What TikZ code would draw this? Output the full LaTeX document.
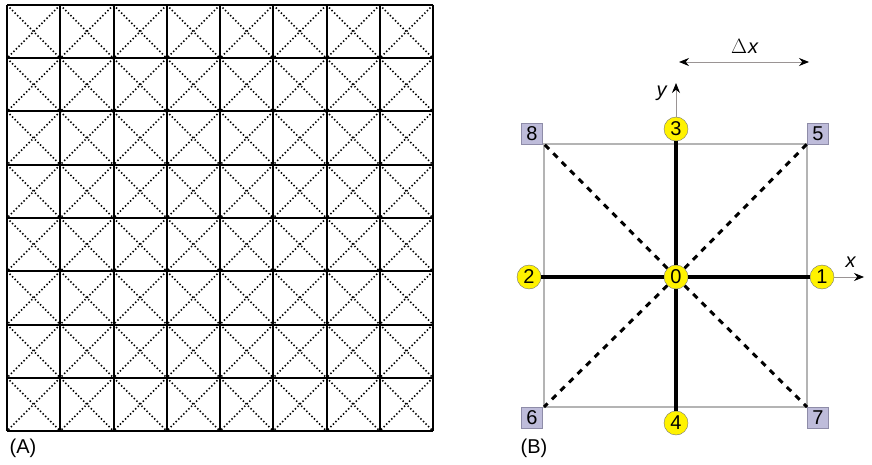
\documentclass[tikz,border=0pt]{standalone}
\usepackage{fontspec}
\setmainfont{Liberation Sans}
\usetikzlibrary{arrows.meta}
\begin{document}
\begin{tikzpicture}[x=1pt, y=-1pt, font=\fontsize{20}{22}\selectfont]
    % Define colours
    \definecolor{circleFill}{HTML}{FFF200}
    \definecolor{boxFill}{HTML}{BEBCDA}
    \definecolor{boxBorder}{HTML}{8E8CA8}
    \definecolor{frameColour}{HTML}{B4B4B4}
    \definecolor{arrowColour}{HTML}{9A9494}

    % Define styles
    \tikzset{
        dirNode/.style={circle, draw=black!55, fill=circleFill, inner sep=0pt, minimum size=24pt},
        cornerNode/.style={rectangle, draw=boxBorder, fill=boxFill, inner sep=0pt, minimum size=21pt},
        axisArrow/.style={draw=arrowColour, line width=0.9pt, -{Stealth[length=10pt,width=8pt,black]}},
        gridLine/.style={line width=2pt},
        diagDots/.style={line width=1.6pt, dash pattern=on 1.4pt off 2.2pt}
    }

    \useasboundingbox (0,0) rectangle (872,465);

    % Define grid of panel A
    \def\cellSize{53.25}
    \def\gridLeft{7}
    \def\gridTop{5}

    % Draw dotted diagonals
    \foreach \i in {0,...,7}
        \foreach \j in {0,...,7} {
            \draw[diagDots] (\gridLeft+\i*\cellSize, \gridTop+\j*\cellSize) -- ++(\cellSize,\cellSize);
            \draw[diagDots] (\gridLeft+\i*\cellSize+\cellSize, \gridTop+\j*\cellSize) -- ++(-\cellSize,\cellSize);
        }

    % Draw grid
    \foreach \k in {0,...,8} {
        \draw[gridLine] (\gridLeft+\k*\cellSize, \gridTop) -- ++(0, 8*\cellSize);
        \draw[gridLine] (\gridLeft, \gridTop+\k*\cellSize) -- ++(8*\cellSize, 0);
    }

    % Label panel A
    \node (labelA) at (23,448) {(A)};

    % Define corners of the cell in panel B
    \coordinate (c8) at (544,144);
    \coordinate (c5) at (807,144);
    \coordinate (c6) at (544,407);
    \coordinate (c7) at (807,407);

    % Draw cell frame
    \draw[frameColour, line width=1.1pt] (c8) -- (c5) -- (c7) -- (c6) -- cycle;

    % Place neighbour nodes
    \node[dirNode] (n0) at (676,277) {0};
    \node[dirNode] (n1) at (822,277) {1};
    \node[dirNode] (n2) at (529,277) {2};
    \node[dirNode] (n3) at (676,129) {3};
    \node[dirNode] (n4) at (676,423) {4};
    \node[cornerNode] (n5) at (818,134) {5};
    \node[cornerNode] (n8) at (532,134) {8};
    \node[cornerNode] (n6) at (532,418) {6};
    \node[cornerNode] (n7) at (818,418) {7};

    % Draw axes through the centre
    \draw[line width=3.2pt] (n2) -- (n0);
    \draw[line width=3.2pt] (n0) -- (n1);
    \draw[line width=3.2pt] (n3) -- (n0);
    \draw[line width=3.2pt] (n0) -- (n4);

    % Draw dashed diagonals
    \foreach \c in {c5,c6,c7,c8}
        \draw[line width=3pt, dash pattern=on 6pt off 6pt] (n0) -- (\c);

    % Draw coordinate arrows
    \coordinate (yTip) at (676,83);
    \coordinate (xTip) at (864,277);
    \draw[axisArrow] (n3) -- (yTip);
    \draw[axisArrow] (n1) -- (xTip);
    \node (yLabel) at (662,93) {\textit{y}};
    \node (xLabel) at (851,262) {\textit{x}};

    % Draw spacing arrow
    \coordinate (dxLeft) at (679,62);
    \coordinate (dxRight) at (809,62);
    \draw[axisArrow, {Stealth[length=10pt,width=8pt,black]}-{Stealth[length=10pt,width=8pt,black]}] (dxLeft) -- (dxRight);
    \node (dxLabel) at (745,46) {$\Delta$\kern1pt\textit{x}};

    % Label panel B
    \node (labelB) at (534,448) {(B)};

\end{tikzpicture}
\end{document}
